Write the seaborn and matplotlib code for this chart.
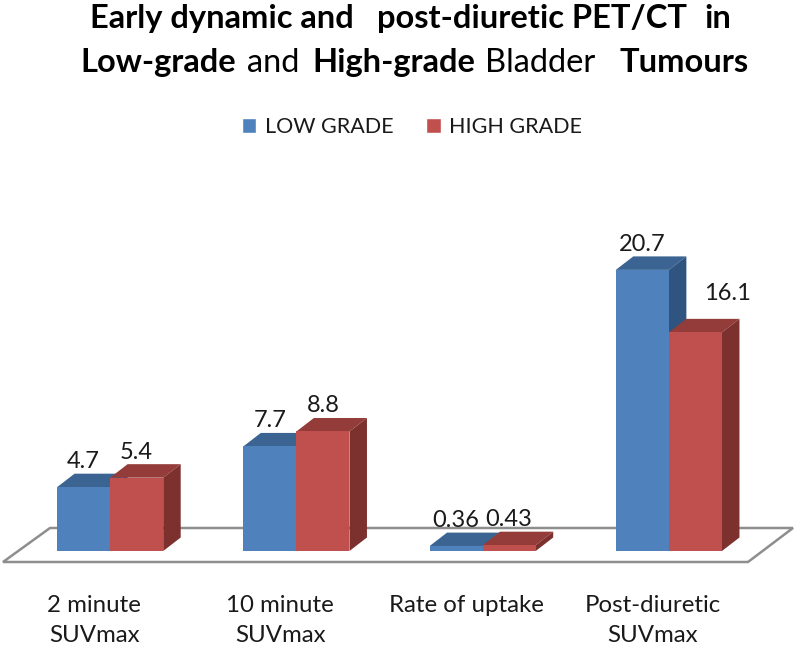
import matplotlib
matplotlib.use("Agg")
from matplotlib.patches import Polygon
from matplotlib.transforms import ScaledTranslation
import matplotlib.pyplot as plt
import pandas as pd
import seaborn as sns

categories = ["2 minute\nSUVmax", "10 minute\nSUVmax", "Rate of uptake", "Post-diuretic\nSUVmax"]
low_grade = [4.7, 7.7, 0.36, 20.7]
high_grade = [5.4, 8.8, 0.43, 16.1]
low_labels = ["4.7", "7.7", "0.36", "20.7"]
high_labels = ["5.4", "8.8", "0.43", "16.1"]
series_names = ["LOW GRADE", "HIGH GRADE"]

W, H = 797, 646
FRONT = ["#4F81BD", "#C0504D"]
TOP = ["#3B6493", "#933C3A"]
SIDE = ["#2F5480", "#7D312F"]
DEPTH_X, DEPTH_Y = 17.5, 13.5  # px

sns.set_theme(style="white")
plt.rcParams["font.family"] = ["Lato", "DejaVu Sans"]

df = pd.DataFrame({
    "category": categories * 2,
    "value": low_grade + high_grade,
    "series": [series_names[0]] * 4 + [series_names[1]] * 4,
})

fig = plt.figure(figsize=(W / 100, H / 100), dpi=100)
ax = fig.add_axes([17 / W, (H - 551) / H, 745 / W, 339.5 / H])
sns.barplot(
    data=df, x="category", y="value", hue="series", palette=FRONT, hue_order=series_names,
    width=0.57, gap=0, saturation=1, ax=ax, legend=True,
)
ax.set_xlim(-0.5, 3.5)
ax.set_ylim(0, 25)
ax.set_xlabel("")
ax.set_ylabel("")
ax.set_yticks([])
sns.despine(ax=ax, left=True, bottom=True)
ax.patch.set_visible(False)

px_x = 4 / 745      # data units per px
px_y = 25 / 339.5
dx, dy = DEPTH_X * px_x, DEPTH_Y * px_y

# floor, behind the bars
floor = Polygon(
    [(-0.5 - 14 * px_x, -11 * px_y), (-0.5 + 33 * px_x, 23 * px_y),
     (3.5 + 31 * px_x, 23 * px_y), (3.5 - 14 * px_x, -11 * px_y)],
    closed=True, facecolor="white", edgecolor="#8E8E8E", linewidth=1.8, clip_on=False, zorder=1,
)
ax.add_patch(floor)

# fake depth: top and side faces from the seaborn bars
bars = [b for b in ax.patches if b is not floor and b.get_height() > 0]
for i, bar in enumerate(bars):
    s = i // 4
    x0, x1, h = bar.get_x(), bar.get_x() + bar.get_width(), bar.get_height()
    base_z = 2 + s * 2
    ax.add_patch(Polygon([(x0, h), (x0 + dx, h + dy), (x1 + dx, h + dy), (x1, h)],
                         facecolor=TOP[s], edgecolor="none", zorder=base_z, clip_on=False))
    ax.add_patch(Polygon([(x1, 0), (x1 + dx, dy), (x1 + dx, h + dy), (x1, h)],
                         facecolor=SIDE[s], edgecolor="none", zorder=base_z, clip_on=False))
    bar.set_zorder(base_z + 1)
    bar.set_linewidth(0)

# value labels
for i, (bar, text) in enumerate(zip(bars, low_labels + high_labels)):
    off_x, off_y = 0, 19
    if text == "16.1":
        off_x, off_y = 32, 32
    ax.annotate(text, (bar.get_x() + bar.get_width() / 2, bar.get_height()),
                xytext=(off_x, off_y), textcoords="offset pixels", ha="center", va="baseline",
                fontsize=17, color="#1a1a1a", zorder=10, annotation_clip=False)

# category labels sit under the front edge of the floor
ax.tick_params(axis="x", length=0, pad=0, labelsize=17.3)
shift = ScaledTranslation(-16 / fig.dpi, -44 / fig.dpi, fig.dpi_scale_trans)
for label in ax.get_xticklabels():
    label.set_transform(label.get_transform() + shift)
    label.set_linespacing(1.52)
    label.set_color("#1a1a1a")

handles, labels = ax.get_legend_handles_labels()
ax.get_legend().remove()
fig.legend(handles, labels, loc="center", bbox_to_anchor=(412 / W, (H - 127) / H), ncol=2, frameon=False,
           fontsize=15.5, handlelength=0.68, handleheight=0.68, handletextpad=0.4, columnspacing=1.5,
           labelcolor="#1a1a1a")

# title, word weights differ in the original
line1 = [("Early dynamic and", 90, "bold"), ("post-diuretic PET/CT", 377, "bold"), ("in", 704, "bold")]
line2 = [("Low-grade", 80, "bold"), ("and", 247, "normal"), ("High-grade", 312, "bold"),
         ("Bladder", 485, "normal"), ("Tumours", 620, "bold")]
for words, base in ((line1, 28), (line2, 72)):
    for text, x, weight in words:
        fig.text(x / W, (H - base) / H, text, fontsize=23.5, fontweight=weight, color="black",
                 ha="left", va="baseline")

fig.savefig("out.png", dpi=100)
